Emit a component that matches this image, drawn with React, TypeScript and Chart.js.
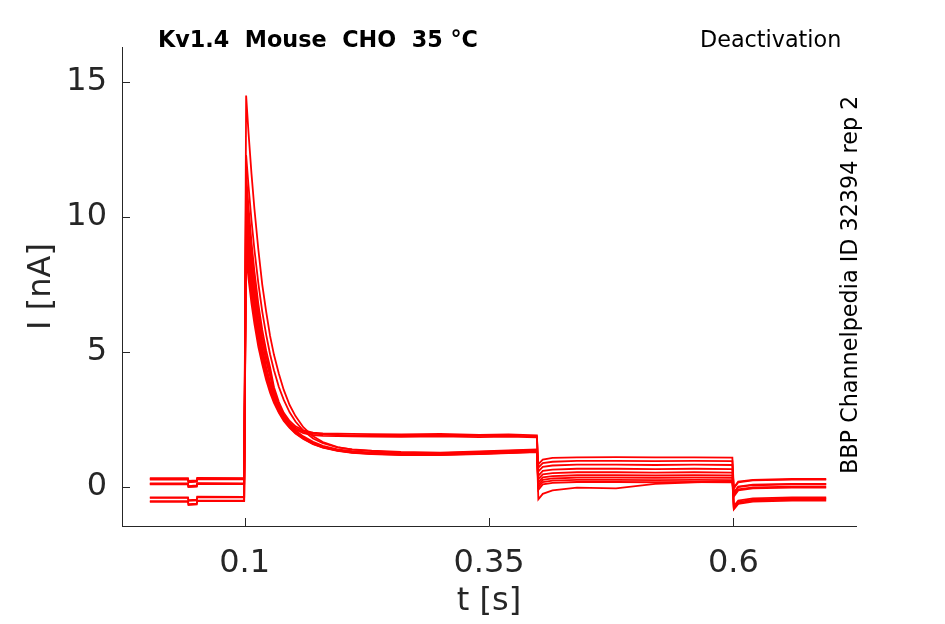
import React, { useEffect, useRef } from "react";
import { Chart, registerables } from "chart.js";

Chart.register(...registerables);

// time samples [s]
const T = [
  0.003, 0.042, 0.0425, 0.051, 0.0515, 0.0995,
  0.1015, 0.104, 0.107, 0.11, 0.114, 0.118, 0.122, 0.126, 0.13, 0.135, 0.14, 0.146,
  0.152, 0.16, 0.17, 0.18, 0.195, 0.21, 0.23, 0.26, 0.3, 0.34, 0.37, 0.399,
  0.4005, 0.405, 0.415, 0.44, 0.48, 0.52, 0.56, 0.599,
  0.6005, 0.605, 0.62, 0.66, 0.695,
];

// current traces [nA]
const TRACE_A = [
  -0.55, -0.55, -0.66, -0.64, -0.52, -0.52,
  14.5, 13.1, 11.6, 10.3, 8.8, 7.5, 6.5, 5.6, 4.9, 4.2, 3.6, 3.04, 2.63, 2.22, 1.88, 1.67, 1.48, 1.39, 1.33, 1.28, 1.26, 1.3, 1.34, 1.38,
  -0.45, -0.25, -0.12, -0.02, -0.05, 0.12, 0.18, 0.22,
  -0.8, -0.6, -0.5, -0.46, -0.45,
];
const TRACE_B = [
  0.3, 0.3, 0.2, 0.22, 0.32, 0.31,
  12.3, 11.13, 9.87, 8.79, 7.55, 6.5, 5.65, 4.92, 4.33, 3.71, 3.23, 2.77, 2.43, 2.09, 1.8, 1.63, 1.47, 1.4, 1.35, 1.3, 1.28, 1.32, 1.36, 1.4,
  0.85, 1.02, 1.08, 1.1, 1.11, 1.1, 1.1, 1.09,
  -0.05, 0.18, 0.25, 0.28, 0.28,
];
const TRACE_C = [
  0.12, 0.12, 0.02, 0.04, 0.13, 0.12,
  11.6, 10.35, 9.07, 7.98, 6.78, 5.82, 5.05, 4.44, 3.7, 3.15, 2.75, 2.45, 2.25, 2.1, 2.02, 1.99, 1.98, 1.97, 1.96, 1.95, 1.97, 1.93, 1.95, 1.92,
  0.72, 0.89, 0.94, 0.97, 0.97, 0.96, 0.97, 0.96,
  -0.2, 0.02, 0.09, 0.12, 0.12,
];
const TRACE_D = [
  -0.4, -0.4, -0.51, -0.49, -0.37, -0.38,
  11.1, 9.91, 8.69, 7.65, 6.5, 5.59, 4.86, 4.27, 3.6, 3.05, 2.68, 2.38, 2.19, 2.05, 1.98, 1.95, 1.93, 1.92, 1.92, 1.9, 1.92, 1.9, 1.91, 1.88,
  0.58, 0.75, 0.8, 0.83, 0.83, 0.82, 0.83, 0.82,
  -0.7, -0.5, -0.42, -0.38, -0.38,
];
const TRACE_E = [
  0.33, 0.33, 0.23, 0.25, 0.34, 0.33,
  10.6, 9.47, 8.31, 7.32, 6.23, 5.37, 4.67, 4.11, 3.5, 2.98, 2.62, 2.32, 2.13, 2.0, 1.93, 1.9, 1.89, 1.88, 1.87, 1.86, 1.88, 1.85, 1.87, 1.84,
  0.42, 0.6, 0.65, 0.68, 0.68, 0.67, 0.68, 0.67,
  -0.02, 0.2, 0.27, 0.3, 0.3,
];
const TRACE_F = [
  0.14, 0.14, 0.04, 0.06, 0.15, 0.14,
  10.2, 9.1, 8.0, 7.05, 6.0, 5.15, 4.45, 3.9, 3.45, 3.0, 2.65, 2.35, 2.1, 1.88, 1.68, 1.53, 1.4, 1.33, 1.28, 1.25, 1.24, 1.28, 1.32, 1.36,
  0.3, 0.47, 0.52, 0.55, 0.55, 0.54, 0.55, 0.54,
  -0.22, 0.0, 0.07, 0.1, 0.1,
];
const TRACE_G = [
  -0.38, -0.38, -0.48, -0.46, -0.35, -0.36,
  9.8, 8.75, 7.7, 6.8, 5.8, 5.0, 4.32, 3.8, 3.36, 2.93, 2.6, 2.3, 2.06, 1.84, 1.64, 1.5, 1.37, 1.3, 1.25, 1.22, 1.22, 1.26, 1.3, 1.34,
  0.18, 0.36, 0.41, 0.44, 0.44, 0.43, 0.44, 0.43,
  -0.75, -0.55, -0.46, -0.42, -0.42,
];
const TRACE_H = [
  -0.52, -0.52, -0.63, -0.61, -0.5, -0.5,
  9.4, 8.4, 7.4, 6.55, 5.6, 4.85, 4.2, 3.7, 3.28, 2.87, 2.55, 2.26, 2.03, 1.82, 1.62, 1.48, 1.36, 1.29, 1.24, 1.21, 1.2, 1.24, 1.28, 1.32,
  0.08, 0.27, 0.32, 0.35, 0.35, 0.34, 0.35, 0.34,
  -0.82, -0.62, -0.54, -0.5, -0.5,
];
const TRACE_I = [
  0.28, 0.28, 0.18, 0.2, 0.3, 0.29,
  9.0, 8.05, 7.1, 6.3, 5.4, 4.7, 4.08, 3.6, 3.2, 2.8, 2.5, 2.22, 2.0, 1.8, 1.6, 1.47, 1.35, 1.28, 1.23, 1.2, 1.2, 1.23, 1.27, 1.31,
  0.0, 0.19, 0.24, 0.27, 0.27, 0.26, 0.27, 0.26,
  -0.35, -0.12, -0.05, -0.02, -0.02,
];
const TRACE_J = [
  0.1, 0.1, 0.0, 0.02, 0.12, 0.11,
  8.6, 7.7, 6.8, 6.05, 5.2, 4.55, 3.97, 3.5, 3.12, 2.75, 2.45, 2.19, 1.98, 1.78, 1.59, 1.46, 1.34, 1.27, 1.22, 1.19, 1.19, 1.22, 1.26, 1.3,
  -0.1, 0.1, 0.16, 0.19, 0.19, 0.18, 0.19, 0.18,
  -0.3, -0.08, -0.01, 0.02, 0.02,
];

const TRACES = [TRACE_A, TRACE_B, TRACE_C, TRACE_D, TRACE_E, TRACE_F, TRACE_G, TRACE_H, TRACE_I, TRACE_J];

const X_TICKS = [0.1, 0.35, 0.6];
const Y_TICKS = [0, 5, 10, 15];

const TITLE_LEFT = "Kv1.4  Mouse  CHO  35 °C";
const TITLE_RIGHT = "Deactivation";
const SIDE_LABEL = "BBP Channelpedia ID 32394 rep 2";
const X_TITLE = "t [s]";
const Y_TITLE = "I [nA]";

const AXIS_COLOR = "#262626";
const FONT = "DejaVu Sans";

const decorations = {
  id: "decorations",
  afterDraw(chart: any) {
    const { ctx, chartArea, scales } = chart;
    ctx.save();
    ctx.strokeStyle = AXIS_COLOR;
    ctx.lineWidth = 1;
    const tickLen = 8;
    scales.x.ticks.forEach((t: any) => {
      const px = Math.round(scales.x.getPixelForValue(t.value)) + 0.5;
      ctx.beginPath();
      ctx.moveTo(px, chartArea.bottom);
      ctx.lineTo(px, chartArea.bottom - tickLen);
      ctx.stroke();
    });
    scales.y.ticks.forEach((t: any) => {
      const py = Math.round(scales.y.getPixelForValue(t.value)) + 0.5;
      ctx.beginPath();
      ctx.moveTo(chartArea.left, py);
      ctx.lineTo(chartArea.left + tickLen, py);
      ctx.stroke();
    });

    ctx.fillStyle = "#000";
    ctx.textAlign = "left";
    ctx.textBaseline = "alphabetic";
    ctx.font = `bold 22.3px '${FONT}'`;
    ctx.fillText(TITLE_LEFT, 158, 47);
    ctx.font = `22.3px '${FONT}'`;
    ctx.fillText(TITLE_RIGHT, 700, 47);
    ctx.translate(857, 474);
    ctx.rotate(-Math.PI / 2);
    ctx.fillText(SIDE_LABEL, 0, 0);
    ctx.restore();
  },
};

export default function App() {
  const ref = useRef<HTMLCanvasElement | null>(null);

  useEffect(() => {
    if (!ref.current) return;
    const chart = new Chart(ref.current, {
      type: "line",
      data: {
        datasets: TRACES.map((tr) => ({
          data: T.map((t, i) => ({ x: t, y: tr[i] })),
          borderColor: "#ff0000",
          borderWidth: 1.8,
          pointRadius: 0,
          tension: 0,
          fill: false,
        })),
      },
      options: {
        responsive: true,
        maintainAspectRatio: false,
        animation: false,
        layout: { padding: { left: 0, top: 47, right: 89, bottom: 0 } },
        plugins: {
          legend: { display: false },
          tooltip: { enabled: false },
          title: { display: false },
        },
        scales: {
          x: {
            type: "linear",
            min: -0.0255,
            max: 0.7255,
            afterBuildTicks: (scale: any) => {
              scale.ticks = X_TICKS.map((v) => ({ value: v }));
            },
            afterFit: (scale: any) => {
              scale.height = 98;
            },
            grid: { display: false },
            border: { display: true, color: AXIS_COLOR, width: 1 },
            ticks: {
              padding: 10,
              color: AXIS_COLOR,
              font: { family: FONT, size: 32 },
              maxRotation: 0,
              autoSkip: false,
              callback: (v: any) => String(v),
            },
            title: {
              display: true,
              text: X_TITLE,
              color: AXIS_COLOR,
              font: { family: FONT, size: 32 },
              padding: { top: 0, bottom: 3 },
            },
          },
          y: {
            type: "linear",
            min: -1.44,
            max: 16.3,
            afterBuildTicks: (scale: any) => {
              scale.ticks = Y_TICKS.map((v) => ({ value: v }));
            },
            afterFit: (scale: any) => {
              scale.width = 122;
            },
            grid: { display: false },
            border: { display: true, color: AXIS_COLOR, width: 1 },
            ticks: {
              padding: 7,
              color: AXIS_COLOR,
              font: { family: FONT, size: 32 },
              autoSkip: false,
              callback: (v: any) => String(v),
            },
            title: {
              display: true,
              text: Y_TITLE,
              color: AXIS_COLOR,
              font: { family: FONT, size: 32 },
              padding: { top: 22, bottom: 0 },
            },
          },
        },
      },
      plugins: [decorations],
    });
    return () => chart.destroy();
  }, []);

  return (
    <div style={{ position: "fixed", left: 0, top: 0, width: 945, height: 624, background: "#fff" }}>
      <canvas ref={ref} />
    </div>
  );
}
